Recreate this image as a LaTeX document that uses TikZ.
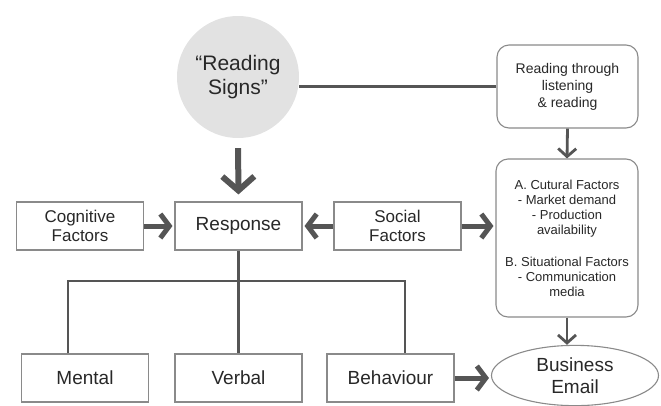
\documentclass[tikz,border=0pt]{standalone}
\usepackage{fontspec}
\setmainfont{Liberation Sans}
\usetikzlibrary{arrows.meta,shapes.geometric}
\definecolor{boxgray}{RGB}{138,138,138}
\definecolor{arrgray}{RGB}{85,85,85}
\definecolor{txtgray}{RGB}{40,40,40}
\definecolor{signfill}{RGB}{226,226,226}

\begin{document}
\begin{tikzpicture}[x=1pt,y=-1pt]
  \tikzstyle{box}=[draw=boxgray,line width=1.1pt,fill=white,text=txtgray,
    minimum width=127pt,minimum height=48pt,align=center,
    font=\fontsize{17}{19}\selectfont]
  \tikzstyle{rbox}=[box,rounded corners=12pt]
  \tikzstyle{fat}=[-{Straight Barb[length=9pt,width=24pt]},arrgray,line width=5pt]
  \tikzstyle{huge}=[-{Straight Barb[length=14pt,width=32pt]},arrgray,line width=6pt]
  \tikzstyle{slim}=[-{Straight Barb[length=8pt,width=18pt]},arrgray,line width=2.8pt]
  \tikzstyle{link}=[arrgray,line width=2.2pt]
  \useasboundingbox (0,0) rectangle (661,405);

  % -- top: reading signs and listening box --
  \node[circle,fill=signfill,minimum size=122pt,text=txtgray,align=center,
    font=\fontsize{21}{24}\selectfont] (sign) at (238,77) {“Reading\\Signs”};
  \node[rbox,minimum width=141pt,minimum height=83pt,
    font=\fontsize{14}{17}\selectfont] (listen) at (567.5,86.5)
    {Reading through\\listening\\\& reading};
  \draw[arrgray,line width=3.5pt] (listen.west) -- (listen.west -| sign.east);

  % -- factors box on the right --
  \node[rbox,minimum width=142pt,minimum height=158pt,
    font=\fontsize{13}{15}\selectfont] (factors) at (567,238)
    {A. Cutural Factors\\- Market demand\\- Production\\availability\\[17pt]
     B. Situational Factors\\- Communication\\media};
  \draw[slim] (listen.south) -- (factors.north);

  % -- middle row --
  \node[box] (cog) at (80,226) {Cognitive\\Factors};
  \node[box,font=\fontsize{19}{21}\selectfont] (resp) at (238.5,226) {Response};
  \node[box] (soc) at (397.5,226) {Social\\Factors};
  \draw[huge,shorten <=10pt,shorten >=7pt] (sign.south) -- (resp.north);
  \draw[fat,shorten >=2pt] (cog.east) -- (resp.west);
  \draw[fat,shorten >=2pt] (soc.west) -- (resp.east);
  \draw[fat,shorten >=2pt] (soc.east) -- (soc.east -| factors.west);

  % -- bottom row --
  \node[box,font=\fontsize{19}{21}\selectfont] (mental) at (85,378) {Mental};
  \node[box,font=\fontsize{19}{21}\selectfont] (verbal) at (238.5,378) {Verbal};
  \node[box,font=\fontsize{19}{21}\selectfont] (behav) at (390.5,378) {Behaviour};
  \node[ellipse,draw=boxgray,line width=1.1pt,fill=white,text=txtgray,
    minimum width=167pt,minimum height=55pt,align=center,
    font=\fontsize{19}{22}\selectfont] (email) at (575,375.5) {Business\\Email};
  \draw[slim] (factors.south) -- (factors.south |- email.north);
  \draw[fat,shorten >=2pt] (behav.east) -- (behav.east -| email.west);

  % -- tree under response --
  \coordinate (tl) at (68,281);
  \coordinate (tr) at (405,281);
  \draw[link] (resp.south) -- (verbal.north);
  \draw[link] (tl |- mental.north) -- (tl) -- (tr) -- (tr |- behav.north);
\end{tikzpicture}
\end{document}
